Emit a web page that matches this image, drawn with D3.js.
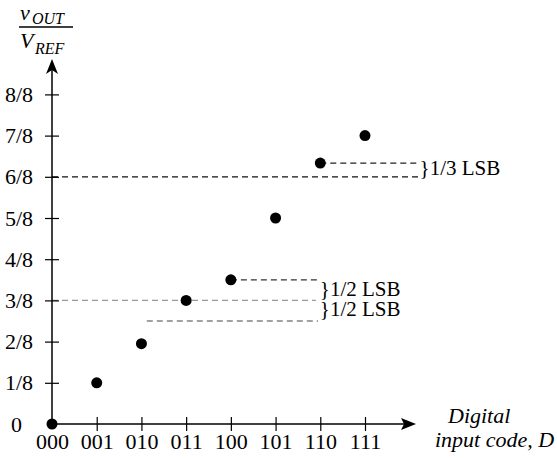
<!DOCTYPE html>
<html><head><meta charset="utf-8">
<script src="https://cdn.jsdelivr.net/npm/d3@7"></script>
<style>body{margin:0;background:#fff}svg{display:block}</style>
</head><body>
<svg id="chart" width="557" height="458"></svg>
<script>
// ---- data ----
const codes = ["000","001","010","011","100","101","110","111"];
const outputs = [0, 1, 1.95, 3, 3.5, 5, 6.333, 7];          // v_OUT in eighths of V_REF
const yTickValues = [0,1,2,3,4,5,6,7,8];
const yTickLabels = ["0","1/8","2/8","3/8","4/8","5/8","6/8","7/8","8/8"];
// dashed reference levels: level (eighths), start and end in code-index units
const refLevels = [6, 6.333, 3, 3.5, 2.5];
const refStarts = [0, 6, 0, 4, 2.12];
const refEnds   = [8.19, 8.19, 5.9, 5.97, 5.95];
const refColors = ["#111", "#222", "#999", "#333", "#444"];
// brace annotations: interval low/high (eighths), x in code-index units
const braceLows  = [6, 3, 2.5];
const braceHighs = [6.333, 3.5, 3];
const braceX     = [8.22, 5.99, 5.99];
const braceTexts = ["}1/3 LSB", "}1/2 LSB", "}1/2 LSB"];

// ---- scales ----
const svg = d3.select("#chart");
const x = d3.scaleLinear().domain([0, 7]).range([52, 365]);
const y = d3.scaleLinear().domain([0, 8]).range([424, 94.4]);
const serif = "'Liberation Serif','Times New Roman',serif";

// dashed lines
svg.append("g").selectAll("line").data(refLevels).join("line")
  .attr("x1", (d,i) => x(refStarts[i]))
  .attr("x2", (d,i) => x(refEnds[i]))
  .attr("y1", d => y(d)).attr("y2", d => y(d))
  .attr("stroke", (d,i) => refColors[i])
  .attr("stroke-width", 1.2)
  .attr("stroke-dasharray", "6,4");

// axes lines
const x0 = x(0), y0 = y(0);
svg.append("line").attr("x1", x0).attr("x2", x0).attr("y1", y0).attr("y2", 70)
  .attr("stroke", "#000").attr("stroke-width", 1.5);
svg.append("path").attr("d", `M${x0},59 L${x0-6},74 L${x0},70 L${x0+6},74 Z`).attr("fill", "#000");
svg.append("line").attr("x1", x0).attr("x2", 404).attr("y1", y0).attr("y2", y0)
  .attr("stroke", "#000").attr("stroke-width", 1.5);
svg.append("path").attr("d", `M416,${y0} L401,${y0-6} L404,${y0} L401,${y0+6} Z`).attr("fill", "#000");

// y axis ticks & labels
const yAxis = d3.axisLeft(y).tickValues(yTickValues)
  .tickFormat((d,i) => yTickLabels[i]).tickSizeInner(7).tickSizeOuter(0).tickPadding(12);
const gy = svg.append("g").attr("transform", `translate(${x0},0)`).call(yAxis);
gy.select(".domain").remove();
gy.selectAll(".tick line").attr("x1", -7).attr("x2", 7).attr("stroke", "#000").attr("stroke-width", 1.2);
gy.selectAll(".tick").filter(d => d === 0).select("line").remove();
gy.selectAll(".tick text").attr("font-family", serif).attr("font-size", 22).attr("fill", "#000")
  .attr("dy", "0.32em");
gy.selectAll(".tick").filter(d => d === 0).select("text").attr("x", -30);

// x axis ticks & labels
const xAxis = d3.axisBottom(x).tickValues(d3.range(codes.length))
  .tickFormat(i => codes[i]).tickSizeInner(7).tickSizeOuter(0).tickPadding(10);
const gx = svg.append("g").attr("transform", `translate(0,${y0})`).call(xAxis);
gx.select(".domain").remove();
gx.selectAll(".tick line").attr("y1", -7).attr("y2", 7).attr("stroke", "#000").attr("stroke-width", 1.2);
gx.selectAll(".tick").filter(d => d === 0).select("line").remove();
gx.selectAll(".tick text").attr("font-family", serif).attr("font-size", 22).attr("fill", "#000")
  .attr("y", 25).attr("dy", 0);

// dots
svg.append("g").selectAll("circle").data(outputs).join("circle")
  .attr("cx", (d,i) => x(i)).attr("cy", d => y(d)).attr("r", 5.5).attr("fill", "#000");

// brace labels
svg.append("g").selectAll("text").data(braceTexts).join("text")
  .attr("x", (d,i) => x(braceX[i]))
  .attr("y", (d,i) => y((braceLows[i] + braceHighs[i]) / 2))
  .attr("dy", "0.26em")
  .attr("font-family", serif).attr("font-size", 21).attr("fill", "#000")
  .text(d => d);

// y axis title: v_OUT / V_REF
const t1 = svg.append("text").attr("font-family", serif).attr("font-style", "italic").attr("fill", "#000");
t1.append("tspan").attr("x", 20).attr("y", 20).attr("font-size", 22).text("v");
t1.append("tspan").attr("x", 32).attr("y", 24).attr("font-size", 16).text("OUT");
svg.append("line").attr("x1", 19).attr("x2", 73).attr("y1", 27).attr("y2", 27)
  .attr("stroke", "#000").attr("stroke-width", 1.5);
const t2 = svg.append("text").attr("font-family", serif).attr("font-style", "italic").attr("fill", "#000");
t2.append("tspan").attr("x", 20).attr("y", 48).attr("font-size", 22).text("V");
t2.append("tspan").attr("x", 35).attr("y", 54).attr("font-size", 16).text("REF");

// x axis title
svg.append("text").attr("x", 448).attr("y", 423).attr("font-family", serif).attr("font-style", "italic")
  .attr("font-size", 22).attr("fill", "#000").text("Digital");
svg.append("text").attr("x", 435).attr("y", 447).attr("font-family", serif).attr("font-style", "italic")
  .attr("font-size", 22).attr("fill", "#000").text("input code, D");
</script>
</body></html>
